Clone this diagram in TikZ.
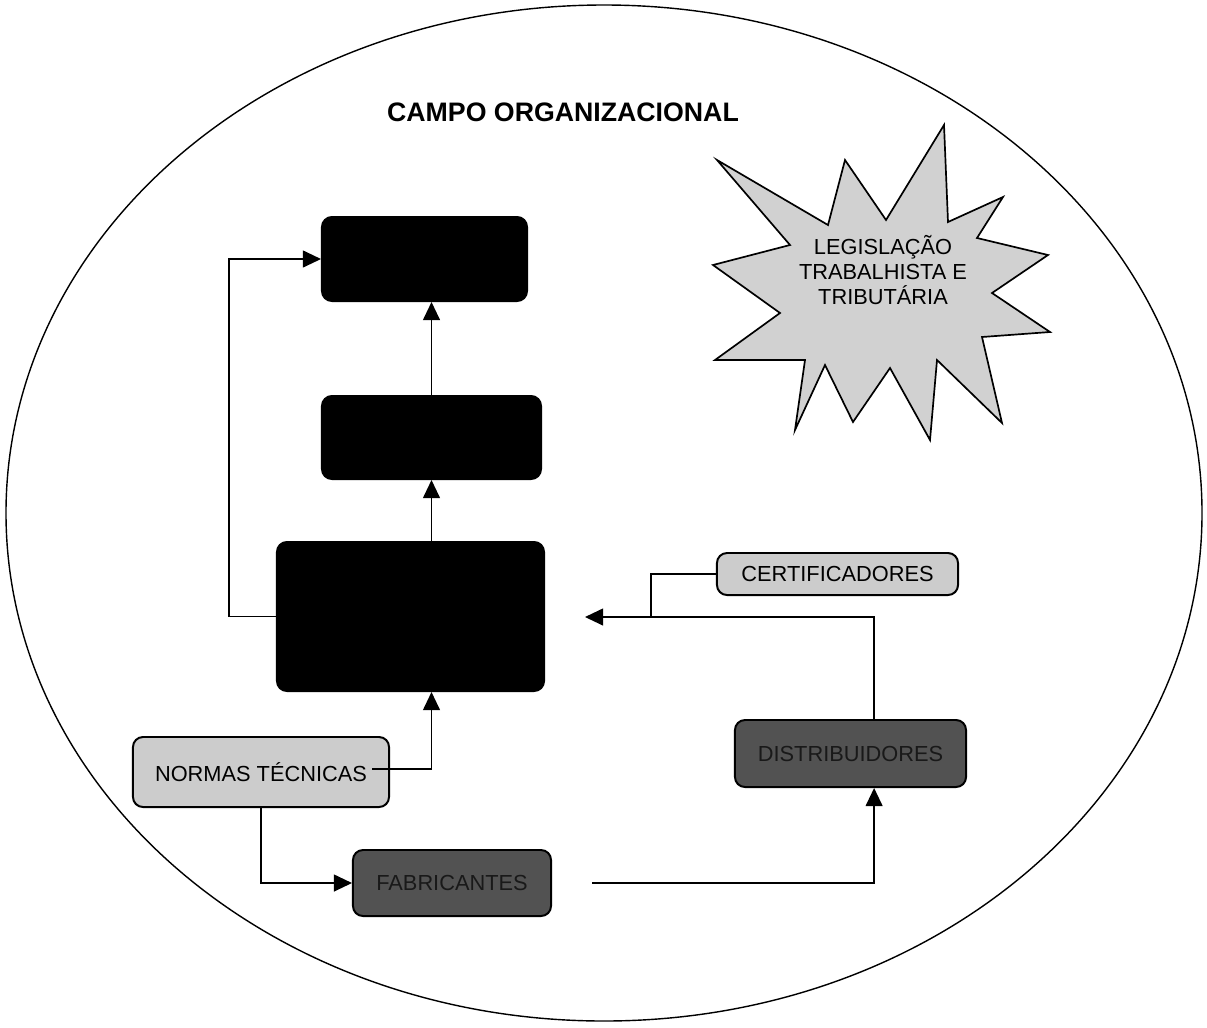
\documentclass[tikz,border=0pt]{standalone}
\usepackage{fontspec}
\setmainfont{Liberation Sans}
\usetikzlibrary{arrows.meta}
\tikzset{
  boxtext/.style={font=\fontsize{15.5}{17.5}\selectfont},
  blackbox/.style={draw,line width=1.4pt,rounded corners=0.25cm,fill=black},
  greybox/.style={draw,line width=1.4pt,rounded corners=0.25cm,fill=black!20,boxtext},
  shadebox/.style={draw,line width=1.4pt,rounded corners=0.25cm,fill=black!68,text=black!90,boxtext},
  link/.style={line width=1.1pt,-{Triangle[length=0.45cm,width=0.42cm]}}
}
\begin{document}
\begin{tikzpicture}[x=0.025cm,y=-0.025cm]
      \useasboundingbox (0,0) rectangle (1207,1027);
      \draw[line width=1pt] (604,513) ellipse [x radius=598, y radius=508];
      \node[font=\fontsize{19}{23}\bfseries\selectfont] (title) at (563,112) {CAMPO ORGANIZACIONAL};
      % star
      \draw[line width=1.2pt,fill=black!18,line join=miter]
        (717,160) -- (828,225) -- (845,160) -- (886,220) -- (944,125) -- (948,222)
        -- (1003,197) -- (977,238) -- (1048,255) -- (992,293) -- (1050,332)
        -- (982,337) -- (1002,423) -- (937,360) -- (930,440) -- (890,368)
        -- (853,422) -- (825,365) -- (795,430) -- (805,360) -- (715,360)
        -- (780,313) -- (713,265) -- (790,245) -- cycle;
      \node[boxtext,align=center] (lei) at (883,270) {LEGISLAÇÃO\\TRABALHISTA E\\TRIBUTÁRIA};
      \draw
        (424.5,259) node[blackbox,minimum width=5.125cm,minimum height=2.1cm] (topo){}
        (431.5,437.5) node[blackbox,minimum width=5.475cm,minimum height=2.075cm] (meio){}
        (410.5,616.5) node[blackbox,minimum width=6.675cm,minimum height=3.725cm] (base){}
        (261,772) node[greybox,minimum width=6.4cm,minimum height=1.75cm] (normas){NORMAS TÉCNICAS}
        (452,883) node[shadebox,minimum width=4.95cm,minimum height=1.65cm] (fab){FABRICANTES}
        (850.5,753.5) node[shadebox,minimum width=5.775cm,minimum height=1.675cm] (dist){DISTRIBUIDORES}
        (837.5,574) node[greybox,minimum width=6.025cm,minimum height=1.05cm] (cert){CERTIFICADORES};
      \coordinate (normas-out) at (372,769);
      \coordinate (fab-out) at (592,883);
      \coordinate (base-in) at (585,617);
      \coordinate (merge) at (651,617);
      \coordinate (dist-in) at ([xshift=0.59cm]dist.south);
      \coordinate (dist-out) at ([xshift=0.59cm]dist.north);
      \begin{scope}[link]
        \draw (meio.north) -- (meio.north |- topo.south);
        \draw (base.north -| meio.north) -- (meio.south);
        \draw (base.west) -- ++(-47,0) |- (topo.west);
        \draw (normas-out) -| (meio.south |- base.south);
        \draw (normas.south) |- (fab.west);
        \draw (fab-out) -| (dist-in);
        \draw (dist-out) |- (base-in);
      \end{scope}
      \draw[line width=1.1pt] (cert.west) -| (merge);
    \end{tikzpicture}
\end{document}
